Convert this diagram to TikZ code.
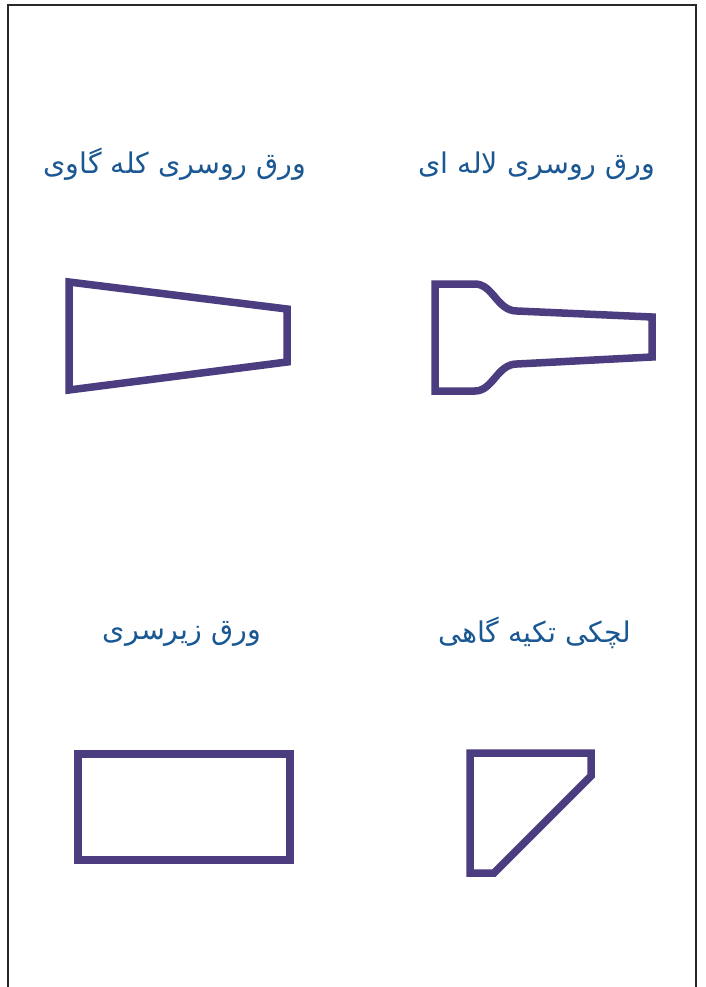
\documentclass[tikz,border=0pt]{standalone}
\usepackage{fontspec}
\newfontfamily\arabicfont[Script=Arabic]{DejaVu Sans}
\TeXXeTstate=1
\definecolor{shapecol}{RGB}{76,60,128}
\definecolor{textcol}{RGB}{26,88,148}
\definecolor{framecol}{RGB}{40,40,40}
\begin{document}
\begin{tikzpicture}[x=1pt,y=-1pt,
  part/.style={draw=shapecol,line width=7.5pt,line join=miter},
  label/.style={text=textcol,font=\arabicfont\fontsize{28.5}{32}\selectfont,inner sep=0pt,anchor=base}]
\useasboundingbox (0,0) rectangle (705,987);
\fill[white] (0,0) rectangle (705,987);
\draw[framecol,line width=1.5pt] (8,987) -- (8,5) -- (696,5) -- (696,987);
% labels
\node[label] (t1) at (537,174) {\beginR ورق روسری لاله ای\endR};
\node[label] (t2) at (175,174) {\beginR ورق روسری کله گاوی\endR};
\node[label] (t3) at (182,639) {\beginR ورق زیرسری\endR};
\node[label] (t4) at (535,642) {\beginR لچکی تکیه گاهی\endR};
% shapes
\draw[part] (69,282) -- (287,309) -- (287,362) -- (69,390) -- cycle;
\draw[part] (435,284) -- (475,284) .. controls (493,284) and (497,311) .. (517,311)
  -- (652,317) -- (652,357) -- (517,364) .. controls (497,364) and (493,391) .. (475,391)
  -- (435,391) -- cycle;
\draw[part] (78,754) rectangle (290,860);
\draw[part] (470,753) -- (591,753) -- (591,776) -- (494,873) -- (470,873) -- cycle;
\end{tikzpicture}
\end{document}
